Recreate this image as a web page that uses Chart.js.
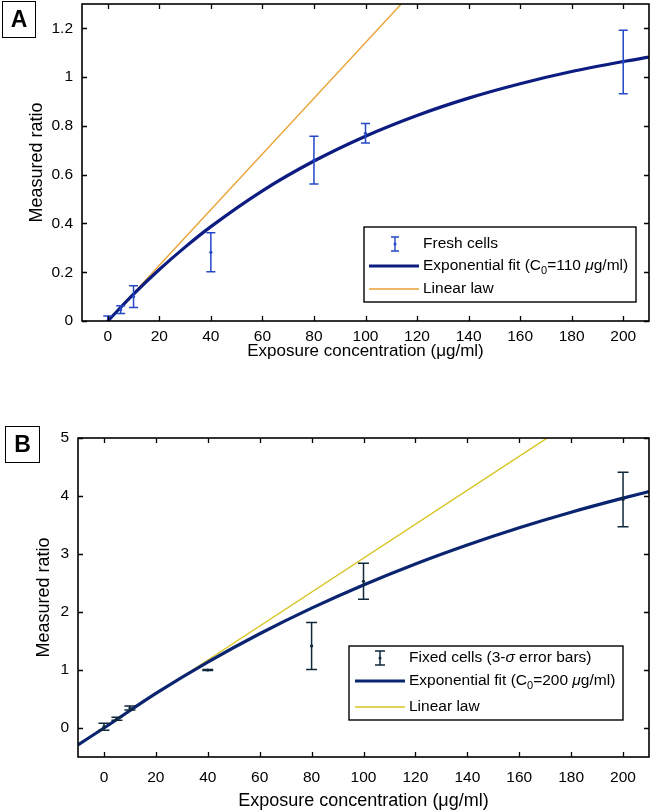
<!DOCTYPE html>
<html><head><meta charset="utf-8">
<script src="https://cdn.jsdelivr.net/npm/chart.js@4.4.1/dist/chart.umd.min.js"></script>
<style>
html,body{margin:0;padding:0;background:#fff;}
#wrap{position:relative;width:653px;height:812px;overflow:hidden;background:#fff;}
.lab{position:absolute;border:1.5px solid #000;font:bold 23px "Liberation Sans",Arial,sans-serif;display:flex;align-items:center;justify-content:center;box-sizing:border-box;color:#000;}
</style></head><body>
<div id="wrap">
<canvas id="cA" width="653" height="365" style="position:absolute;left:0;top:0"></canvas>
<canvas id="cB" width="653" height="382" style="position:absolute;left:0;top:430px"></canvas>
<div class="lab" style="left:2px;top:1px;width:34px;height:37px">A</div>
<div class="lab" style="left:5px;top:426px;width:35px;height:37px">B</div>
</div>
<script>
// ---------- data ----------
const xTicks = [0, 20, 40, 60, 80, 100, 120, 140, 160, 180, 200];
const yTicksA = [0, 0.2, 0.4, 0.6, 0.8, 1, 1.2];
const yTicksB = [0, 1, 2, 3, 4, 5];

// Panel A : fresh cells
const concA = [0, 5, 10, 40, 80, 100, 200];
const meanA = [0.0, 0.047, 0.10, 0.282, 0.66, 0.77, 1.062];
const errA  = [0.02, 0.016, 0.045, 0.08, 0.098, 0.04, 0.13];
const fitXA = [0, 10, 20, 30, 40, 60, 80, 100, 120, 140, 160, 180, 200, 210];
const fitYA = [0, 0.110, 0.211, 0.303, 0.387, 0.534, 0.656, 0.758, 0.843, 0.914, 0.973, 1.023, 1.064, 1.082];
const linXA = [0, 120];
const linYA = [0, 1.37];

// Panel B : fixed cells
const concB = [0, 5, 10, 40, 80, 100, 200];
const meanB = [0.02, 0.16, 0.345, 1.0, 1.415, 2.53, 3.94];
const errB  = [0.06, 0.025, 0.035, 0.01, 0.405, 0.31, 0.47];
const fitXB = [-10, 0, 20, 40, 60, 80, 100, 120, 140, 160, 180, 200, 210];
const fitYB = [-0.29, 0, 0.597, 1.137, 1.625, 2.067, 2.467, 2.829, 3.156, 3.453, 3.721, 3.963, 4.076];
const linXB = [0, 180];
const linYB = [0, 5.27];

const legendA = [
  [{t: 'Fresh cells'}],
  [{t: 'Exponential fit (C'}, {t: '0', sub: true}, {t: '=110 '}, {t: '\u03BC', it: true}, {t: 'g/ml)'}],
  [{t: 'Linear law'}]
];
const legendB = [
  [{t: 'Fixed cells (3-'}, {t: '\u03C3', it: true}, {t: ' error bars)'}],
  [{t: 'Exponential fit (C'}, {t: '0', sub: true}, {t: '=200 '}, {t: '\u03BC', it: true}, {t: 'g/ml)'}],
  [{t: 'Linear law'}]
];
const xTitle = 'Exposure concentration (\u03BCg/ml)';
const yTitle = 'Measured ratio';

// ---------- helpers ----------
const FF = '"Liberation Sans", Arial, Helvetica, sans-serif';
const pts = (xs, ys) => xs.map((x, i) => ({x: x, y: ys[i]}));
const fmt = v => String(Math.round(v * 10) / 10);
const noPad = s => { s.paddingTop = 0; s.paddingBottom = 0; s.paddingLeft = 0; s.paddingRight = 0; };

const framePlugin = {
  id: 'frame',
  afterDraw(chart, args, o) {
    const {ctx, chartArea: a, scales} = chart;
    ctx.save();
    ctx.strokeStyle = '#000';
    ctx.lineWidth = 1.3;
    ctx.beginPath();
    const L = 5;
    scales.x.ticks.forEach(t => {
      const px = Math.round(scales.x.getPixelForValue(t.value)) + 0.5;
      ctx.moveTo(px, a.bottom); ctx.lineTo(px, a.bottom - L);
      ctx.moveTo(px, a.top); ctx.lineTo(px, a.top + L);
    });
    scales.y.ticks.forEach(t => {
      const py = Math.round(scales.y.getPixelForValue(t.value)) + 0.5;
      ctx.moveTo(a.left, py); ctx.lineTo(a.left + L, py);
      ctx.moveTo(a.right, py); ctx.lineTo(a.right - L, py);
    });
    ctx.stroke();
    ctx.lineWidth = 1.6;
    ctx.strokeRect(a.left, a.top, a.right - a.left, a.bottom - a.top);
    ctx.restore();
  }
};

const errPlugin = {
  id: 'errbars',
  afterDatasetsDraw(chart, args, o) {
    const {ctx, chartArea: a, scales} = chart;
    ctx.save();
    ctx.beginPath();
    ctx.rect(a.left, a.top, a.right - a.left, a.bottom - a.top);
    ctx.clip();
    ctx.strokeStyle = o.color;
    ctx.lineWidth = o.width;
    o.xs.forEach((x, i) => {
      const px = scales.x.getPixelForValue(x);
      const y1 = scales.y.getPixelForValue(o.mean[i] - o.err[i]);
      const y2 = scales.y.getPixelForValue(o.mean[i] + o.err[i]);
      ctx.beginPath();
      ctx.moveTo(px, y1); ctx.lineTo(px, y2);
      ctx.moveTo(px - o.cap, y1); ctx.lineTo(px + o.cap, y1);
      ctx.moveTo(px - o.cap, y2); ctx.lineTo(px + o.cap, y2);
      ctx.stroke();
    });
    ctx.restore();
  }
};

const legendPlugin = {
  id: 'boxlegend',
  afterDraw(chart, args, o) {
    const ctx = chart.ctx;
    ctx.save();
    ctx.fillStyle = '#fff';
    ctx.fillRect(o.box[0], o.box[1], o.box[2] - o.box[0], o.box[3] - o.box[1]);
    ctx.strokeStyle = '#000';
    ctx.lineWidth = 1.4;
    ctx.strokeRect(o.box[0], o.box[1], o.box[2] - o.box[0], o.box[3] - o.box[1]);
    o.items.forEach((it, i) => {
      const y = o.rows[i];
      ctx.strokeStyle = it.color;
      if (it.type === 'err') {
        const cx = o.errX;
        ctx.lineWidth = o.errW;
        ctx.beginPath();
        ctx.moveTo(cx, y - o.errH); ctx.lineTo(cx, y + o.errH);
        ctx.moveTo(cx - o.errCap, y - o.errH); ctx.lineTo(cx + o.errCap, y - o.errH);
        ctx.moveTo(cx - o.errCap, y + o.errH); ctx.lineTo(cx + o.errCap, y + o.errH);
        ctx.stroke();
        ctx.fillStyle = it.color;
        ctx.beginPath(); ctx.arc(cx, y, 1.5, 0, Math.PI * 2); ctx.fill();
      } else {
        ctx.lineWidth = it.width;
        ctx.beginPath();
        ctx.moveTo(o.lineX[0], y); ctx.lineTo(o.lineX[1], y);
        ctx.stroke();
      }
      ctx.fillStyle = '#000';
      ctx.textBaseline = 'middle';
      ctx.textAlign = 'left';
      let x = o.textX;
      o.labels[i].forEach(seg => {
        if (seg.sub) {
          ctx.font = `${Math.round(o.fontSize * 0.72)}px ${FF}`;
          ctx.fillText(seg.t, x, y + o.fontSize * 0.32);
        } else {
          ctx.font = `${seg.it ? 'italic ' : ''}${o.fontSize}px ${FF}`;
          ctx.fillText(seg.t, x, y);
        }
        x += ctx.measureText(seg.t).width;
      });
    });
    ctx.restore();
  }
};

function makeChart(id, p) {
  return new Chart(document.getElementById(id), {
    type: 'scatter',
    data: {
      datasets: [
        {label: 'points', data: pts(p.xs, p.mean), showLine: false, pointRadius: 1.6,
         pointBackgroundColor: p.errColor, pointBorderWidth: 0},
        {label: 'fit', data: pts(p.fitX, p.fitY), showLine: true, pointRadius: 0,
         borderColor: p.fitColor, borderWidth: 3.2, cubicInterpolationMode: 'monotone'},
        {label: 'linear', data: pts(p.linX, p.linY), showLine: true, pointRadius: 0,
         borderColor: p.linColor, borderWidth: 1.4}
      ]
    },
    options: {
      responsive: false,
      animation: false,
      events: [],
      layout: {padding: {top: p.padTop, right: 2, left: 0, bottom: 0}},
      plugins: {
        legend: {display: false},
        tooltip: {enabled: false},
        errbars: {xs: p.xs, mean: p.mean, err: p.err, color: p.errColor, width: 1.5, cap: p.cap},
        boxlegend: p.legend
      },
      scales: {
        x: {
          type: 'linear', min: -10, max: 210,
          afterBuildTicks: s => { s.ticks = xTicks.map(v => ({value: v})); },
          afterFit: s => { s.height = p.xH; noPad(s); },
          grid: {display: false, drawTicks: false},
          border: {display: false},
          ticks: {color: '#000', font: {family: FF, size: 15.5}, padding: p.xPad, maxRotation: 0, autoSkip: false,
                  callback: v => fmt(v)},
          title: {display: true, text: xTitle, color: '#000', font: {family: FF, size: p.xTitleSize},
                  padding: {top: 0, bottom: p.xTitlePad}}
        },
        y: {
          type: 'linear', min: p.yMin, max: p.yMax,
          afterBuildTicks: s => { s.ticks = p.yTicks.map(v => ({value: v})); },
          afterFit: s => { s.width = p.yW; noPad(s); },
          grid: {display: false, drawTicks: false},
          border: {display: false},
          ticks: {color: '#000', font: {family: FF, size: 15.5}, padding: 9, autoSkip: false,
                  callback: v => fmt(v)},
          title: {display: true, text: yTitle, color: '#000', font: {family: FF, size: 18},
                  padding: {top: p.yTitlePad, bottom: 0}}
        }
      }
    },
    plugins: [errPlugin, framePlugin, legendPlugin]
  });
}

makeChart('cA', {
  xs: concA, mean: meanA, err: errA, fitX: fitXA, fitY: fitYA, linX: linXA, linY: linYA,
  errColor: '#2447c8', fitColor: '#0c1c80', linColor: '#e9a235', cap: 4.5,
  yMin: 0, yMax: 1.3, yTicks: yTicksA, padTop: 2, xH: 44, yW: 82,
  xPad: 6, xTitleSize: 17, xTitlePad: 3, yTitlePad: 26,
  legend: {box: [364, 227, 636, 302], rows: [244, 266, 289], items: [
      {type: 'err', color: '#2447c8'}, {type: 'line', color: '#0c1c80', width: 3}, {type: 'line', color: '#e9a235', width: 1.5}],
    labels: legendA, lineX: [369, 419], textX: 423, errX: 395, errH: 7, errCap: 4, errW: 1.4, fontSize: 15.5}
});

makeChart('cB', {
  xs: concB, mean: meanB, err: errB, fitX: fitXB, fitY: fitYB, linX: linXB, linY: linYB,
  errColor: '#10293a', fitColor: '#0a2470', linColor: '#d6c41e', cap: 5.5,
  yMin: -0.5, yMax: 5, yTicks: yTicksB, padTop: 8, xH: 55, yW: 78,
  xPad: 11, xTitleSize: 18, xTitlePad: 0, yTitlePad: 33,
  legend: {box: [349, 216, 623, 290], rows: [228, 251, 277], items: [
      {type: 'err', color: '#10293a'}, {type: 'line', color: '#0a2470', width: 3}, {type: 'line', color: '#d6c41e', width: 1.5}],
    labels: legendB, lineX: [355, 405], textX: 409, errX: 380, errH: 7, errCap: 5, errW: 1.5, fontSize: 15.5}
});
</script>
</body></html>
